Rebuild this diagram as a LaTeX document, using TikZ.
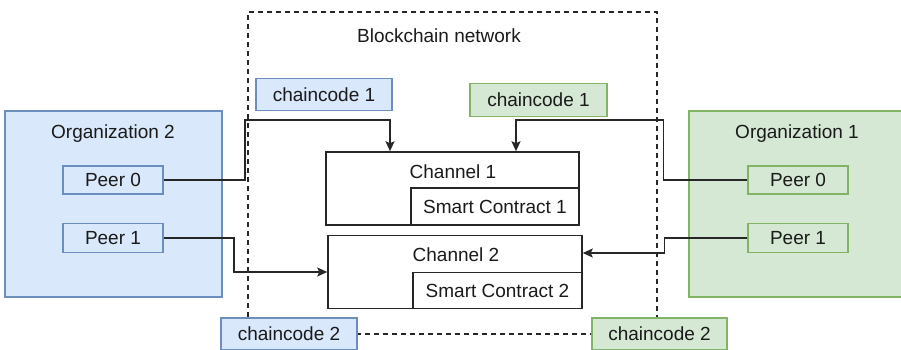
\documentclass[tikz,border=0pt]{standalone}
\usepackage{fontspec}
\setmainfont{Liberation Sans}
\usetikzlibrary{arrows.meta}
\definecolor{bfill}{HTML}{DAE8FC}
\definecolor{bline}{HTML}{6C8EBF}
\definecolor{gfill}{HTML}{D5E8D4}
\definecolor{gline}{HTML}{82B366}
\definecolor{txt}{HTML}{1A1A1A}
\tikzset{
  lbl/.style={font=\fontsize{19}{23}\selectfont, text=txt, inner sep=0pt},
  bluebox/.style={lbl, draw=bline, fill=bfill, line width=1.5pt},
  greenbox/.style={lbl, draw=gline, fill=gfill, line width=1.5pt},
  chanbox/.style={lbl, draw=black!85, fill=white, line width=1.5pt},
  netbox/.style={draw=black!85, line width=1.3pt, dash pattern=on 5pt off 4pt},
  arr/.style={draw=black!85, line width=1.5pt, -{Stealth[length=10pt,width=9pt,inset=2pt]}},
}
\begin{document}
\begin{tikzpicture}[x=1pt,y=-1pt]
\useasboundingbox (0,0) rectangle (901,349);
% network
\node[netbox, minimum width=409pt, minimum height=322pt, inner sep=0pt] (net) at (452.5,173) {};
\node[lbl] (netlbl) at (439,36) {Blockchain network};
% organizations
\node[bluebox, minimum width=217pt, minimum height=186pt] (org2) at (113.5,204) {};
\node[lbl] (org2lbl) at (113,134) {Organization 2};
\node[greenbox, minimum width=220pt, minimum height=186pt] (org1) at (799,204) {};
\node[lbl] (org1lbl) at (797,134) {Organization 1};
% peers
\node[bluebox, minimum width=100pt, minimum height=28pt] (p0L) at (113,180) {Peer 0};
\node[bluebox, minimum width=100pt, minimum height=29pt] (p1L) at (113,238) {Peer 1};
\node[greenbox, minimum width=100pt, minimum height=28pt] (p0R) at (798,180) {Peer 0};
\node[greenbox, minimum width=100pt, minimum height=29pt] (p1R) at (798,238) {Peer 1};
% chaincodes
\node[bluebox, minimum width=136pt, minimum height=32pt] (cc1b) at (324,94.5) {chaincode 1};
\node[greenbox, minimum width=137pt, minimum height=33pt] (cc1g) at (538.5,100) {chaincode 1};
\node[bluebox, minimum width=136pt, minimum height=32pt] (cc2b) at (289,334) {chaincode 2};
\node[greenbox, minimum width=135pt, minimum height=32pt] (cc2g) at (659.5,334) {chaincode 2};
% channels
\node[chanbox, minimum width=253pt, minimum height=73pt] (ch1) at (452.5,188.5) {};
\node[lbl] (ch1lbl) at (453,172) {Channel 1};
\node[chanbox, minimum width=168pt, minimum height=37pt] (sc1) at (495,206.5) {Smart Contract 1};
\node[chanbox, minimum width=254pt, minimum height=73pt] (ch2) at (455,272) {};
\node[lbl] (ch2lbl) at (456,255) {Channel 2};
\node[chanbox, minimum width=169pt, minimum height=36pt] (sc2) at (497.5,290.5) {Smart Contract 2};
% connectors
\draw[arr] (p0L.east) -- ++(81,0) |- (390,120) -- (390,0 |- ch1.north);
\draw[arr] (p0R.west) -- ++(-84,0) |- (516,120) -- (516,0 |- ch1.north);
\draw[arr] (p1L.east) -- ++(70,0) |- (ch2.west);
\draw[arr] (p1R.west) -- ++(-83,0) |- (ch2.east |- 0,253);
\end{tikzpicture}
\end{document}
